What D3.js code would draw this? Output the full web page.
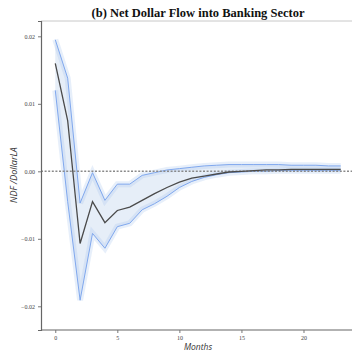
<!DOCTYPE html>
<html>
<head>
<meta charset="utf-8">
<script src="https://cdn.jsdelivr.net/npm/d3@7"></script>
<style>
  html, body { margin: 0; padding: 0; background: #fff; }
  svg { display: block; }
</style>
</head>
<body>
<svg id="chart" width="352" height="352"></svg>
<script>
// Impulse response of net dollar flow (months after shock)
const months = d3.range(0, 24);
const median = [0.0160, 0.0075, -0.0107, -0.0045, -0.0076, -0.0058, -0.0053, -0.0043,
  -0.0033, -0.0024, -0.0016, -0.0010, -0.0007, -0.0004, -0.0001, 0.0000,
  0.0001, 0.0002, 0.0002, 0.0003, 0.0003, 0.0003, 0.0003, 0.0003];
const upper = [0.0195, 0.0138, -0.0047, -0.0002, -0.0043, -0.0019, -0.0019, -0.0006,
  -0.0002, 0.0002, 0.0004, 0.0006, 0.0008, 0.0009, 0.0010, 0.0010,
  0.0010, 0.0010, 0.0010, 0.0009, 0.0009, 0.0009, 0.0008, 0.0008];
const lower = [0.0120, -0.0045, -0.0191, -0.0092, -0.0114, -0.0082, -0.0077, -0.0057,
  -0.0048, -0.0037, -0.0024, -0.0015, -0.0009, -0.0005, -0.0002, -0.0001,
  0.0000, 0.0000, 0.0001, 0.0001, 0.0001, 0.0001, 0.0001, 0.0001];
const xTicks = [0, 5, 10, 15, 20];
const yTicks = [0.02, 0.01, 0.00, -0.01, -0.02];
const yTickLabels = ["0.02", "0.01", "0.00", "\u22120.01", "\u22120.02"];

const svg = d3.select("#chart");
const plot = { left: 41, right: 355, top: 21, bottom: 330 };

const x = d3.scaleLinear().domain([-1.15, 24.15]).range([plot.left, plot.right]);
const y = d3.scaleLinear().domain([-0.02351, 0.02227]).range([plot.bottom, plot.top]);

const rows = months.map((m, i) => ({ m, med: median[i], hi: upper[i], lo: lower[i] }));

// shaded interval between bounds
svg.append("path")
  .datum(rows)
  .attr("fill", "#e6eef8")
  .attr("d", d3.area().x(d => x(d.m)).y0(d => y(d.lo)).y1(d => y(d.hi)));

// soft wide strokes around the bounds
[upper, lower].forEach(arr => {
  svg.append("path")
    .datum(rows.map((r, i) => [r.m, arr[i]]))
    .attr("fill", "none")
    .attr("stroke", "#a9c4ee")
    .attr("stroke-opacity", 0.28)
    .attr("stroke-width", 6)
    .attr("d", d3.line().x(d => x(d[0])).y(d => y(d[1])));
});

// bound lines
[upper, lower].forEach(arr => {
  svg.append("path")
    .datum(rows.map((r, i) => [r.m, arr[i]]))
    .attr("fill", "none")
    .attr("stroke", "#80a8ee")
    .attr("stroke-width", 1)
    .attr("d", d3.line().x(d => x(d[0])).y(d => y(d[1])));
});

// zero reference
svg.append("line")
  .attr("x1", plot.left).attr("x2", 352)
  .attr("y1", y(0)).attr("y2", y(0))
  .attr("stroke", "#8a8a8a")
  .attr("stroke-width", 1.4)
  .attr("stroke-dasharray", "2,1.6");

// median response
svg.append("path")
  .datum(rows)
  .attr("fill", "none")
  .attr("stroke", "#4a4a4a")
  .attr("stroke-width", 1.3)
  .attr("d", d3.line().x(d => x(d.m)).y(d => y(d.med)));

// frame
svg.append("line").attr("x1", plot.left).attr("x2", 352).attr("y1", plot.top).attr("y2", plot.top)
  .attr("stroke", "#c8c8c8").attr("stroke-width", 1);

const xAxis = svg.append("g")
  .attr("transform", `translate(0,${plot.bottom})`)
  .call(d3.axisBottom(x).tickValues(xTicks).tickSize(3).tickPadding(3).tickFormat(d3.format("d")));
const yAxis = svg.append("g")
  .attr("transform", `translate(${plot.left},0)`)
  .call(d3.axisLeft(y).tickValues(yTicks).tickSize(3).tickPadding(3)
    .tickFormat((d, i) => yTickLabels[i]));

[xAxis, yAxis].forEach(g => {
  g.select(".domain").attr("stroke", "#666").attr("stroke-width", 1.2);
  g.selectAll(".tick line").attr("stroke", "#777");
  g.selectAll(".tick text")
    .attr("fill", "#444")
    .style("font-family", "'Liberation Serif', 'DejaVu Serif', serif")
    .style("font-size", "6px");
});
xAxis.select(".domain").attr("d", `M${plot.left},0H352`);

// titles
svg.append("text")
  .attr("x", 198).attr("y", 17)
  .attr("text-anchor", "middle")
  .style("font-family", "'Liberation Serif', 'Times New Roman', serif")
  .style("font-weight", "bold")
  .style("font-size", "12.5px")
  .attr("fill", "#111")
  .text("(b) Net Dollar Flow into Banking Sector");

svg.append("text")
  .attr("x", 198).attr("y", 350)
  .attr("text-anchor", "middle")
  .style("font-family", "'Open Sans', 'DejaVu Sans', sans-serif")
  .style("font-style", "italic")
  .style("font-size", "8.5px")
  .attr("fill", "#333")
  .text("Months");

svg.append("text")
  .attr("transform", "translate(17,175) rotate(-90)")
  .attr("text-anchor", "middle")
  .style("font-family", "'Open Sans', 'DejaVu Sans', sans-serif")
  .style("font-style", "italic")
  .style("font-size", "9px")
  .attr("fill", "#333")
  .text("NDF /DollarLA");
</script>
</body>
</html>
